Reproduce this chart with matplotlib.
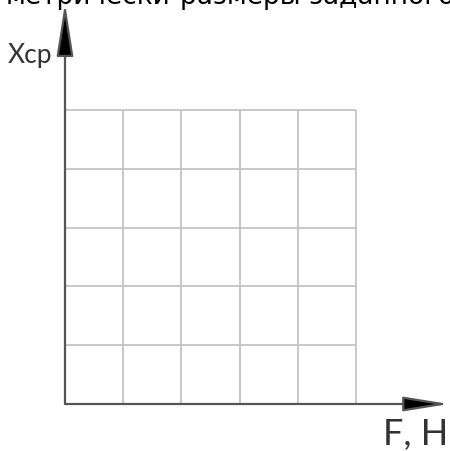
import matplotlib
matplotlib.use("Agg")
import matplotlib.pyplot as plt

# grid of the empty chart (cell units)
grid_x = [0, 1, 2, 3, 4, 5]
grid_y = [0, 1, 2, 3, 4, 5]
x_label = "F, H"
y_label = "Xcp"
top_left_text = "метрически"
top_right_text = "размеры заданного объекта"

plt.rcParams['font.family'] = ['Lato', 'DejaVu Sans']

fig = plt.figure(figsize=(4.5, 4.51), dpi=100)
ax = fig.add_axes([0, 0, 1, 1])
ax.set_axis_off()

# one grid cell is ~58 px wide and ~59 px tall, origin at pixel (65, 404)
sx, sy = 58.2, 58.8
ax.set_xlim(-65 / sx, (450 - 65) / sx)
ax.set_ylim(-(451 - 404) / sy, 404 / sy)

grid_color = '#c4c4c4'
axis_color = '#555555'

ax.vlines(grid_x[1:], grid_y[0], grid_y[-1], color=grid_color, lw=1.3, zorder=1)
ax.hlines(grid_y[1:], grid_x[0], grid_x[-1], color=grid_color, lw=1.3, zorder=1)

# axes with arrows
ax.annotate('', xy=(6.6, 0), xytext=(0, 0),
            arrowprops=dict(arrowstyle='-|>,head_length=28,head_width=4.5',
                            mutation_scale=1, color=axis_color, lw=1.6,
                            fc='black', ec=axis_color, shrinkA=0, shrinkB=0),
            zorder=3)
ax.annotate('', xy=(0, 6.82), xytext=(0, 0),
            arrowprops=dict(arrowstyle='-|>,head_length=33,head_width=5.2',
                            mutation_scale=1, color=axis_color, lw=1.6,
                            fc='black', ec=axis_color, shrinkA=0, shrinkB=0),
            zorder=3)

ax.text(-57 / sx, (404 - 63) / sy, y_label, fontsize=19, color='#333333',
        ha='left', va='baseline')
ax.text((383 - 65) / sx, (404 - 445) / sy, x_label, fontsize=26, color='#333333',
        ha='left', va='baseline')

# caption cut by the top edge of the picture
ax.text((170 - 65) / sx, (404 - 4) / sy, top_left_text, fontsize=19, color='black',
        family='DejaVu Sans', ha='right', va='baseline', clip_on=False)
ax.text((180 - 65) / sx, (404 - 4) / sy, top_right_text, fontsize=19, color='black',
        family='DejaVu Sans', ha='left', va='baseline', clip_on=False)

fig.savefig('out.png', dpi=100)
